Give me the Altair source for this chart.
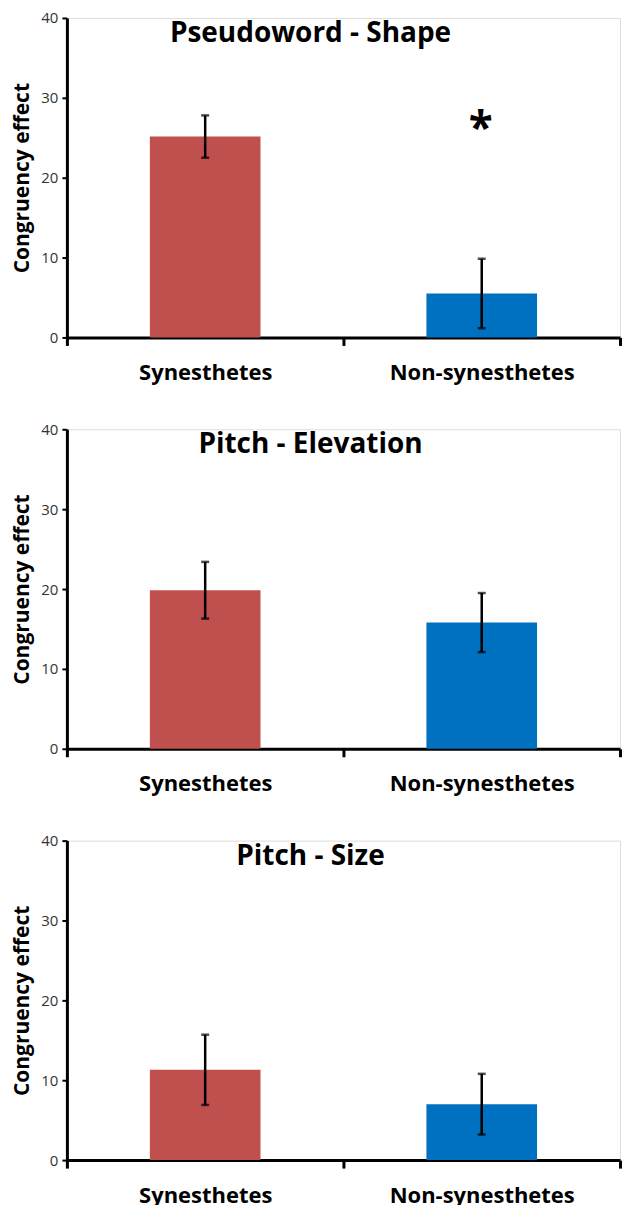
import altair as alt
import pandas as pd

categories = ["Synesthetes", "Non-synesthetes"]
panel_titles = ["Pseudoword - Shape", "Pitch - Elevation", "Pitch - Size"]
means = [[25.15, 5.5], [19.85, 15.8], [11.3, 7.0]]
errors = [[2.65, 4.35], [3.55, 3.7], [4.4, 3.8]]
colors = ["#C0504D", "#0070C0"]
y_ticks = [0, 10, 20, 30, 40]
star_panel = 0
star_category = "Non-synesthetes"
star_value = 26.0
y_title = "Congruency effect"

FONT = "Open Sans"
W, H = 554, 320

YAXIS = alt.Axis(values=y_ticks, title=y_title, grid=False,
                 tickSize=5, tickWidth=2, tickColor="black",
                 domainWidth=3, domainColor="black",
                 labelFont=FONT, labelFontSize=15, labelColor="#333",
                 labelPadding=4, titleFont=FONT, titleFontSize=21,
                 titleFontWeight="bold", titleColor="black",
                 titlePadding=8)
XAXIS = alt.Axis(title=None, labelAngle=0, tickBand="extent", tickSize=8,
                 tickWidth=3, tickColor="black", domainWidth=3, domainColor="black",
                 labelFont=FONT, labelFontSize=22, labelFontWeight="bold",
                 labelColor="black", labelPadding=17, labelLimit=400)
YSCALE = alt.Scale(domain=[0, 40], nice=False)
XSCALE = alt.Scale(paddingInner=0, paddingOuter=0)


def X():
    return alt.X("group:N", sort=categories, scale=XSCALE, axis=XAXIS)


def Y(field):
    return alt.Y(field, scale=YSCALE, axis=YAXIS, title=y_title)


def panel(i):
    df = pd.DataFrame({
        "group": categories,
        "mean": means[i],
        "lo": [m - e for m, e in zip(means[i], errors[i])],
        "hi": [m + e for m, e in zip(means[i], errors[i])],
    })
    base = alt.Chart(df)
    bars = base.mark_bar(width=alt.RelativeBandSize(0.4)).encode(
        x=X(), y=Y("mean:Q"),
        color=alt.Color("group:N", scale=alt.Scale(domain=categories, range=colors),
                        legend=None),
    )
    rule = base.mark_rule(color="black", strokeWidth=2.5).encode(
        x=X(), y=Y("lo:Q"), y2="hi:Q")
    cap_lo = base.mark_tick(color="black", size=8, thickness=2.5).encode(
        x=X(), y=Y("lo:Q"))
    cap_hi = base.mark_tick(color="black", size=8, thickness=2.5).encode(
        x=X(), y=Y("hi:Q"))
    title = alt.Chart(pd.DataFrame({"t": [panel_titles[i]]})).mark_text(
        font=FONT, fontSize=28, fontWeight="bold", color="black", baseline="middle",
        align="center").encode(x=alt.value(244), y=alt.value(16), text="t:N")
    layers = [bars, rule, cap_lo, cap_hi, title]
    if i == star_panel:
        star = alt.Chart(pd.DataFrame({"group": [star_category], "v": [star_value],
                                       "t": ["*"]})).mark_text(
            font=FONT, fontSize=44, fontWeight="bold", color="black", dx=-1,
            baseline="middle").encode(x=X(), y=Y("v:Q"), text="t:N")
        layers.append(star)
    return alt.layer(*layers).properties(width=W, height=H)


chart = alt.vconcat(*[panel(i) for i in range(3)], spacing=92, bounds="flush").properties(
    padding={"left": 3, "top": 1, "right": 0, "bottom": 0}
).configure_view(strokeWidth=0).configure(background="white")

chart.save("out.html", embed_options={"renderer": "svg", "actions": False})
